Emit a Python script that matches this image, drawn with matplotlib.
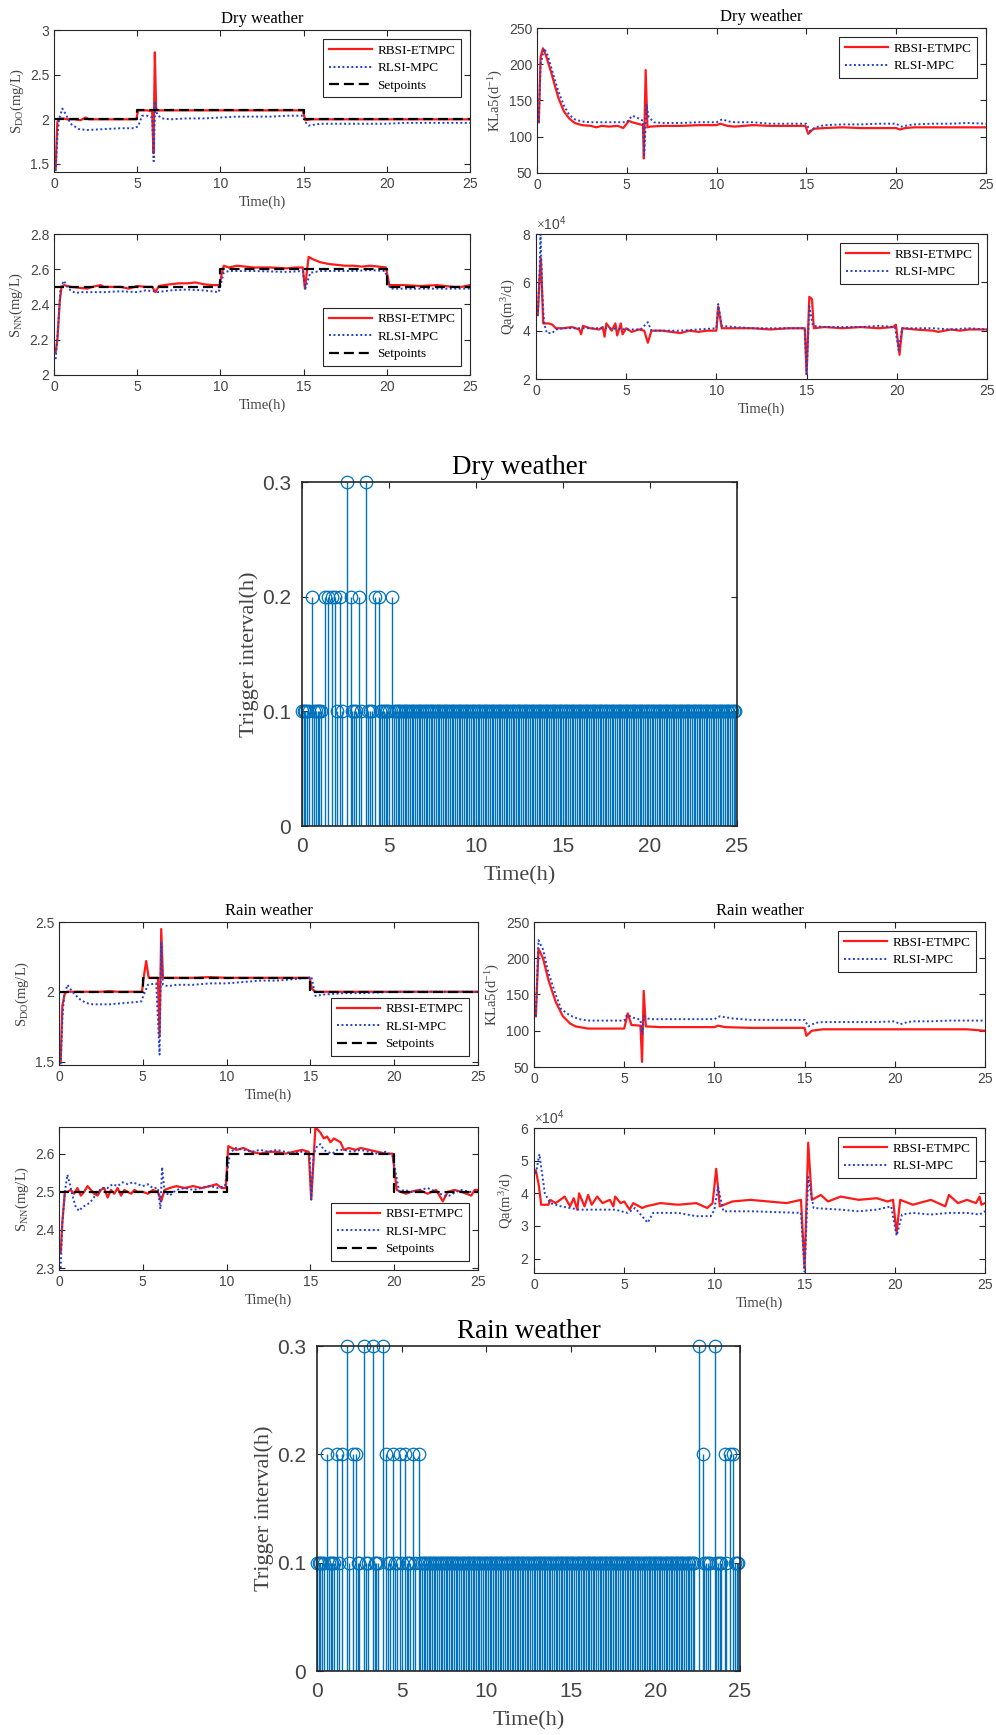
import numpy as np
import matplotlib
matplotlib.use("Agg")
import matplotlib.pyplot as plt
from matplotlib.ticker import ScalarFormatter, FuncFormatter

plt.rcParams["font.family"] = "Liberation Sans"
plt.rcParams["mathtext.fontset"] = "custom"
plt.rcParams["mathtext.rm"] = "Liberation Serif"
plt.rcParams["mathtext.it"] = "Liberation Serif:italic"
plt.rcParams["mathtext.default"] = "rm"

# ---------------- dry weather: dissolved oxygen S_DO (mg/L) ----------------
do_dry_sp_t = [0, 5, 15, 25]
do_dry_sp_v = [2.0, 2.1, 2.0, 2.0]
do_dry_red_t = [0.1, 0.2, 0.3, 0.5, 0.8, 1.2, 1.6, 1.9, 2.1, 2.5, 3.0, 3.5, 4.0, 4.5, 4.95,
                5.05, 5.3, 5.6, 5.9, 5.98, 6.06, 6.14, 6.4, 7, 8, 9, 10, 11, 12, 13, 14, 14.95,
                15.1, 15.5, 16, 17, 18, 19, 20, 21, 22, 23, 24, 25]
do_dry_red = [1.45, 1.97, 2.0, 2.01, 2.0, 2.0, 1.99, 2.02, 2.0, 2.0, 2.0, 2.0, 2.0, 2.0, 2.0,
              2.1, 2.1, 2.1, 2.09, 1.62, 2.75, 2.1, 2.1, 2.1, 2.1, 2.1, 2.1, 2.1, 2.1, 2.1, 2.1, 2.1,
              1.99, 2.0, 2.0, 2.0, 2.0, 2.0, 2.0, 2.0, 2.0, 2.0, 2.0, 2.0]
do_dry_blue_t = [0.1, 0.2, 0.3, 0.5, 0.7, 1.0, 1.5, 2.0, 3.0, 4.0, 4.8, 5.05, 5.3, 5.6, 5.9,
                 5.99, 6.08, 6.2, 6.5, 7, 8, 9, 10, 11, 12, 13, 14, 14.95, 15.1, 15.3, 16, 17,
                 18, 19, 20, 21, 22, 23, 24, 25]
do_dry_blue = [1.42, 1.8, 2.0, 2.12, 2.06, 1.95, 1.89, 1.88, 1.89, 1.9, 1.9, 1.92, 2.04, 2.04, 2.02,
               1.53, 2.2, 2.05, 2.01, 2.0, 2.01, 2.01, 2.02, 2.03, 2.03, 2.03, 2.04, 2.04, 1.97, 1.93,
               1.95, 1.95, 1.95, 1.95, 1.95, 1.96, 1.96, 1.96, 1.96, 1.96]

# ---------------- dry weather: KLa5 (1/d) ----------------
kla_dry_red_t = [0.1, 0.2, 0.33, 0.5, 0.8, 1.0, 1.2, 1.5, 1.8, 2.1, 2.5, 3, 3.3, 3.6, 4, 4.5, 4.8,
                 5.0, 5.1, 5.3, 5.6, 5.9, 5.95, 6.05, 6.15, 6.3, 7, 8, 9, 10, 10.2, 10.6, 11, 12,
                 13, 14, 14.95, 15.1, 15.4, 16, 17, 18, 19, 20, 20.2, 20.5, 21, 22, 23, 24, 25]
kla_dry_red = [120, 210, 222, 212, 188, 170, 153, 135, 125, 119, 116, 115, 113, 115, 114, 115, 112,
               118, 122, 120, 118, 116, 70, 192, 113, 114, 115, 115, 116, 116, 118, 115, 114, 116,
               115, 115, 115, 104, 111, 112, 113, 112, 112, 112, 110, 112, 113, 113, 113, 113, 113]
kla_dry_blue_t = [0.1, 0.2, 0.4, 0.6, 0.8, 1.0, 1.2, 1.5, 1.8, 2.1, 2.5, 3, 4, 5.0, 5.3, 5.6, 5.9,
                  5.97, 6.1, 6.2, 6.5, 7, 8, 9, 10, 10.3, 10.7, 11, 12, 13, 14, 15.0, 15.2, 15.5,
                  16, 17, 18, 19, 20, 20.3, 20.7, 21, 22, 23, 24, 25]
kla_dry_blue = [120, 200, 222, 212, 195, 178, 162, 143, 130, 124, 121, 120, 120, 120, 129, 126, 122,
                75, 145, 128, 120, 119, 119, 120, 120, 124, 121, 120, 120, 118, 118, 118, 108, 113,
                116, 117, 117, 118, 118, 114, 116, 117, 118, 118, 119, 118]

# ---------------- dry weather: nitrate S_NN (mg/L) ----------------
nn_dry_sp_t = [0, 10, 20, 25]
nn_dry_sp_v = [2.5, 2.6, 2.5, 2.5]
nn_dry_red_t = [0.1, 0.2, 0.35, 0.45, 0.6, 1.0, 1.5, 2.0, 2.3, 2.8, 3.0, 3.5, 4.0, 4.5, 5.0, 5.5,
                5.9, 6.1, 6.3, 7.0, 7.5, 8.0, 8.5, 9.0, 9.5, 9.95, 10.05, 10.2, 10.5, 11, 12, 13,
                14, 14.5, 14.95, 15.08, 15.3, 15.6, 16, 16.5, 17, 17.5, 18, 18.5, 19, 19.5, 19.95,
                20.15, 20.5, 21, 22, 23, 24, 24.5, 25]
nn_dry_red = [2.13, 2.2, 2.42, 2.5, 2.51, 2.5, 2.495, 2.49, 2.5, 2.51, 2.5, 2.5, 2.5, 2.49, 2.505,
              2.5, 2.5, 2.47, 2.505, 2.515, 2.52, 2.52, 2.525, 2.515, 2.51, 2.51, 2.56, 2.62, 2.61,
              2.62, 2.61, 2.61, 2.605, 2.61, 2.61, 2.49, 2.67, 2.655, 2.64, 2.63, 2.625, 2.62, 2.62,
              2.615, 2.62, 2.615, 2.61, 2.51, 2.51, 2.51, 2.505, 2.51, 2.5, 2.5, 2.51]
nn_dry_blue_t = [0.1, 0.2, 0.4, 0.6, 0.8, 1.0, 1.3, 1.6, 2, 3, 4, 5, 5.5, 6, 6.2, 7, 8, 9, 9.9,
                 10.2, 10.5, 12, 14, 14.95, 15.1, 15.4, 16, 17, 18, 19, 19.9, 20.2, 21, 22, 23,
                 24, 25]
nn_dry_blue = [2.09, 2.2, 2.5, 2.535, 2.5, 2.48, 2.465, 2.47, 2.47, 2.47, 2.475, 2.47, 2.48, 2.475,
               2.47, 2.48, 2.485, 2.48, 2.47, 2.58, 2.59, 2.59, 2.585, 2.59, 2.49, 2.58, 2.59, 2.59,
               2.59, 2.595, 2.59, 2.49, 2.49, 2.49, 2.49, 2.49, 2.49]

# ---------------- dry weather: internal recycle Qa (1e4 m3/d) ----------------
qa_dry_red_t = [0.1, 0.2, 0.27, 0.4, 0.7, 0.9, 1.1, 1.5, 2.0, 2.4, 2.5, 2.6, 3.0, 3.5, 3.7, 3.8,
                3.9, 4.2, 4.4, 4.5, 4.7, 4.8, 5.0, 5.3, 5.7, 6.0, 6.2, 6.4, 7, 7.5, 8, 8.5, 9, 9.5,
                10.0, 10.1, 10.3, 11, 12, 13, 14, 14.9, 15.0, 15.15, 15.3, 15.4, 16, 17, 18, 19,
                19.8, 19.95, 20.15, 20.3, 21, 22, 22.3, 23, 23.5, 24, 25]
qa_dry_red = [4.7, 6.2, 7.0, 4.3, 4.3, 4.25, 4.1, 4.1, 4.15, 4.05, 3.85, 4.2, 4.1, 4.05, 4.15, 3.75,
              4.3, 4.0, 4.3, 3.8, 4.3, 3.85, 4.1, 3.95, 4.05, 4.0, 3.5, 4.0, 4.0, 3.95, 3.9, 4.0, 3.95,
              4.0, 4.0, 5.0, 4.1, 4.1, 4.1, 4.05, 4.1, 4.1, 2.2, 5.4, 5.3, 4.1, 4.15, 4.1, 4.15, 4.1,
              4.15, 4.25, 3.0, 4.1, 4.05, 4.0, 3.95, 4.05, 4.0, 4.05, 4.05]
qa_dry_blue_t = [0.1, 0.2, 0.25, 0.35, 0.45, 0.6, 0.9, 1.1, 1.5, 2, 3, 4, 5, 5.8, 6.2, 6.4, 7, 8,
                 9, 10.0, 10.1, 10.3, 11, 12, 13, 14, 14.9, 15.0, 15.15, 15.35, 16, 17, 18, 19,
                 19.9, 20.1, 20.3, 21, 22, 23, 24, 25]
qa_dry_blue = [4.6, 6.5, 8.0, 5.5, 4.3, 3.9, 3.9, 4.05, 4.1, 4.1, 4.1, 4.1, 4.05, 4.05, 4.35, 4.0,
               4.0, 4.0, 4.05, 4.1, 5.1, 4.2, 4.15, 4.1, 4.1, 4.1, 4.1, 2.2, 5.0, 4.2, 4.15, 4.15,
               4.15, 4.2, 4.15, 3.2, 4.1, 4.1, 4.1, 4.05, 4.1, 4.05]

# ---------------- rain weather: S_DO (mg/L) ----------------
do_rain_sp_t = [0, 5, 15, 25]
do_rain_sp_v = [2.0, 2.1, 2.0, 2.0]
do_rain_red_t = [0.1, 0.2, 0.35, 0.5, 1, 1.5, 2, 2.5, 3, 3.5, 4, 4.5, 4.95, 5.05, 5.2, 5.35, 5.9,
                 6.0, 6.1, 6.2, 7, 8, 9, 10, 11, 12, 13, 14, 14.95, 15.1, 15.3, 16, 17, 18, 19,
                 20, 21, 22, 23, 24, 25]
do_rain_red = [1.5, 1.9, 1.99, 2.0, 2.0, 2.0, 2.0, 2.0, 2.005, 2.0, 2.0, 2.0, 2.0, 2.1, 2.22, 2.1,
               2.1, 1.68, 2.45, 2.1, 2.1, 2.1, 2.105, 2.1, 2.1, 2.1, 2.1, 2.1, 2.1, 2.02, 2.0, 2.0,
               2.0, 2.0, 2.0, 2.0, 2.0, 2.0, 2.0, 2.0, 2.0]
do_rain_blue_t = [0.1, 0.2, 0.3, 0.5, 0.8, 1.2, 1.6, 2, 3, 4, 4.9, 5.1, 5.3, 5.8, 6.0, 6.1, 6.2,
                  6.5, 7, 8, 9, 10, 11, 12, 13, 14, 14.9, 15.05, 15.3, 15.8, 17, 18, 20, 22, 25]
do_rain_blue = [1.48, 1.8, 1.97, 2.05, 2.0, 1.95, 1.92, 1.91, 1.91, 1.92, 1.93, 1.99, 2.05, 2.06,
                1.55, 2.35, 2.05, 2.04, 2.05, 2.05, 2.06, 2.06, 2.07, 2.08, 2.08, 2.09, 2.1, 2.11,
                1.97, 1.98, 1.99, 1.99, 2.0, 2.0, 2.0]

# ---------------- rain weather: KLa5 (1/d) ----------------
kla_rain_red_t = [0.1, 0.25, 0.5, 0.8, 1.2, 1.6, 2.0, 2.3, 3, 4, 5.0, 5.2, 5.4, 5.9, 5.99, 6.08,
                  6.2, 7, 8, 9, 10, 10.2, 10.6, 12, 13, 14, 15.0, 15.1, 15.4, 16, 17, 18, 19, 20,
                  21, 22, 23, 24, 25]
kla_rain_red = [120, 213, 200, 170, 140, 120, 110, 106, 103, 103, 103, 124, 108, 107, 57, 155, 106,
                105, 105, 105, 105, 107, 105, 104, 104, 104, 104, 93, 100, 102, 102, 102, 102, 102,
                102, 102, 102, 102, 100]
kla_rain_blue_t = [0.1, 0.25, 0.5, 0.8, 1.2, 1.5, 2.0, 2.5, 3, 4, 5.0, 5.15, 5.5, 5.9, 6.0, 6.1,
                   6.3, 6.5, 7, 8, 9, 10, 10.3, 11, 12, 13, 14, 15.0, 15.2, 15.6, 16, 17, 18, 19,
                   20, 20.3, 20.7, 21, 22, 23, 24, 25]
kla_rain_blue = [120, 225, 212, 180, 150, 130, 121, 116, 114, 114, 114, 122, 118, 115, 95, 120, 117,
                 116, 116, 116, 116, 116, 120, 117, 115, 115, 115, 115, 106, 111, 112, 112, 112, 112,
                 113, 109, 112, 113, 113, 114, 114, 114]

# ---------------- rain weather: S_NN (mg/L) ----------------
nn_rain_sp_t = [0, 10, 20, 25]
nn_rain_sp_v = [2.5, 2.6, 2.5, 2.5]
nn_rain_red_t = [0.1, 0.2, 0.35, 0.5, 0.7, 0.9, 1.1, 1.3, 1.5, 1.7, 1.9, 2.1, 2.3, 2.5, 2.7, 2.9,
                 3.1, 3.3, 3.5, 3.7, 3.9, 4.1, 4.3, 4.5, 4.7, 5.0, 5.3, 5.6, 5.9, 6.1, 6.3, 6.6,
                 7.0, 7.5, 8.0, 8.5, 9.0, 9.4, 9.7, 9.95, 10.1, 10.3, 10.6, 11, 11.5, 12, 12.5, 13,
                 13.5, 14, 14.5, 14.9, 15.05, 15.3, 15.6, 15.8, 16.0, 16.2, 16.4, 16.6, 16.8, 17.0,
                 17.3, 17.7, 18, 18.5, 19, 19.5, 19.9, 20.15, 20.4, 20.7, 21, 21.5, 22, 22.5, 22.9,
                 23.2, 23.6, 24, 24.3, 24.6, 24.8, 25]
nn_rain_red = [2.34, 2.42, 2.5, 2.5, 2.505, 2.495, 2.51, 2.49, 2.5, 2.515, 2.505, 2.495, 2.49,
               2.505, 2.51, 2.485, 2.505, 2.495, 2.51, 2.49, 2.505, 2.5, 2.495, 2.505, 2.5, 2.5,
               2.495, 2.505, 2.5, 2.475, 2.505, 2.51, 2.515, 2.51, 2.515, 2.51, 2.515, 2.52, 2.51,
               2.51, 2.62, 2.615, 2.61, 2.615, 2.605, 2.6, 2.605, 2.605, 2.6, 2.605, 2.61, 2.605,
               2.48, 2.67, 2.655, 2.64, 2.645, 2.63, 2.64, 2.635, 2.63, 2.61, 2.615, 2.61, 2.615,
               2.61, 2.605, 2.6, 2.6, 2.505, 2.5, 2.495, 2.5, 2.505, 2.495, 2.505, 2.475, 2.5,
               2.505, 2.5, 2.495, 2.49, 2.505, 2.505]
nn_rain_blue_t = [0.1, 0.2, 0.35, 0.5, 0.65, 0.8, 1.0, 1.2, 1.4, 1.6, 1.8, 2.0, 2.3, 2.6, 2.9, 3.2,
                  3.5, 3.8, 4.1, 4.4, 4.7, 5.0, 5.3, 5.6, 5.9, 6.05, 6.15, 6.3, 6.6, 7.0, 7.5, 8,
                  8.5, 9, 9.5, 9.9, 10.2, 10.5, 11, 11.5, 12, 12.5, 13, 13.5, 14, 14.5, 14.95,
                  15.05, 15.2, 15.4, 15.6, 15.8, 16.0, 16.3, 16.6, 17, 17.5, 18, 18.5, 19, 19.5,
                  19.9, 20.3, 20.6, 21, 21.5, 22, 22.5, 23, 23.3, 23.7, 24, 24.5, 25]
nn_rain_blue = [2.3, 2.42, 2.5, 2.545, 2.52, 2.49, 2.46, 2.45, 2.46, 2.465, 2.47, 2.48, 2.5, 2.51,
                2.51, 2.52, 2.515, 2.525, 2.52, 2.525, 2.52, 2.515, 2.52, 2.51, 2.51, 2.455, 2.565,
                2.5, 2.49, 2.505, 2.51, 2.505, 2.51, 2.515, 2.51, 2.515, 2.6, 2.615, 2.61, 2.605,
                2.61, 2.605, 2.61, 2.605, 2.6, 2.605, 2.6, 2.48, 2.6, 2.62, 2.625, 2.61, 2.605, 2.6,
                2.61, 2.61, 2.605, 2.61, 2.605, 2.6, 2.605, 2.595, 2.5, 2.505, 2.5, 2.505, 2.51,
                2.5, 2.49, 2.49, 2.5, 2.505, 2.5, 2.5]

# ---------------- rain weather: Qa (1e4 m3/d) ----------------
qa_rain_red_t = [0.1, 0.25, 0.4, 0.8, 0.9, 1.2, 1.7, 2.0, 2.2, 2.4, 2.5, 2.8, 3.0, 3.2, 3.5, 3.8,
                 4.2, 4.4, 4.5, 4.8, 5.0, 5.3, 5.5, 6.0, 6.2, 7, 8, 9, 9.6, 9.9, 10.1, 10.3, 11,
                 12, 13, 14, 14.8, 15.0, 15.2, 15.4, 15.9, 16.3, 17, 18, 19, 19.6, 19.9, 20.1,
                 20.3, 21, 22, 22.8, 23.0, 23.5, 24, 24.5, 24.7, 24.8, 25]
qa_rain_red = [4.7, 4.3, 3.65, 3.65, 3.8, 3.7, 3.9, 3.6, 3.85, 3.5, 4.0, 3.6, 3.95, 3.65, 3.9, 3.7,
               3.8, 3.6, 3.9, 3.7, 3.75, 3.5, 3.7, 3.55, 3.6, 3.7, 3.65, 3.7, 3.55, 3.7, 4.75, 3.6,
               3.75, 3.8, 3.75, 3.7, 3.8, 1.7, 5.55, 3.8, 3.95, 3.75, 3.9, 3.8, 3.85, 3.75, 3.8,
               2.8, 3.8, 3.65, 3.8, 3.6, 3.95, 3.7, 3.8, 3.7, 3.9, 3.65, 3.7]
qa_rain_blue_t = [0.1, 0.3, 0.6, 0.9, 1.5, 2.5, 3.5, 4.5, 5.2, 5.6, 6.3, 6.6, 8, 9, 9.8, 10.0,
                  10.2, 10.5, 12, 14.8, 15.0, 15.2, 15.5, 17, 18, 19, 19.8, 20.1, 20.4, 21, 22,
                  23, 24, 24.7, 25]
qa_rain_blue = [4.6, 5.2, 4.0, 3.7, 3.6, 3.5, 3.5, 3.5, 3.4, 3.55, 3.1, 3.4, 3.4, 3.3, 3.3, 3.5,
                4.2, 3.45, 3.45, 3.4, 1.6, 4.5, 3.55, 3.5, 3.45, 3.5, 3.6, 2.7, 3.35, 3.4, 3.35,
                3.4, 3.4, 3.35, 3.45]

# ---------------- trigger intervals (h) of the event-triggered controller ----------------
dry_intervals_head = [0.1, 0.1, 0.1, 0.1, 0.1, 0.2, 0.1, 0.1, 0.1, 0.1, 0.1, 0.2, 0.2, 0.2, 0.2,
                      0.1, 0.2, 0.1, 0.3, 0.2, 0.1, 0.1, 0.1, 0.2, 0.1, 0.3, 0.1, 0.1, 0.1, 0.2,
                      0.2, 0.1, 0.1, 0.1, 0.1, 0.1, 0.1, 0.2]
dry_regular_count = 197
rain_intervals_head = [0.1, 0.1, 0.1, 0.1, 0.1, 0.2, 0.1, 0.1, 0.1, 0.1, 0.2, 0.1, 0.2, 0.3, 0.1,
                       0.2, 0.2, 0.1, 0.1, 0.3, 0.1, 0.1, 0.3, 0.1, 0.1, 0.1, 0.3, 0.2, 0.1, 0.1,
                       0.2, 0.1, 0.1, 0.2, 0.1, 0.2, 0.1, 0.1, 0.1, 0.2, 0.1, 0.2]
rain_regular_count = 163
rain_intervals_tail = [0.3, 0.2, 0.1, 0.1, 0.1, 0.1, 0.3, 0.1, 0.1, 0.1, 0.1, 0.2, 0.1, 0.2, 0.2,
                       0.1, 0.1, 0.1]

AX_GRAY = "#262626"
TXT_GRAY = "#444444"
RED = "#ff1a1a"
BLUE = "#2040d0"
STEM = "#0072bd"
W, H = 996, 1735

fig = plt.figure(figsize=(W / 100, H / 100), dpi=100)
plain = FuncFormatter(lambda v, pos: f"{v:g}")


def add_axes(left, top, right, bottom):
    return fig.add_axes([left / W, 1 - bottom / H, (right - left) / W, (bottom - top) / H])


def frame(ax, tick_size, pad=3.5):
    for s in ax.spines.values():
        s.set_color(AX_GRAY)
        s.set_linewidth(0.8)
    ax.tick_params(direction="in", top=True, right=True, color=AX_GRAY, labelcolor=TXT_GRAY,
                   labelsize=tick_size, length=4, width=0.8, pad=pad)
    ax.xaxis.set_major_formatter(plain)
    ax.yaxis.set_major_formatter(plain)


def response_panel(ax, t_red, v_red, t_blue, v_blue, ylim, yticks, ylabel,
                   title=None, xlabel=True, sp_t=None, sp_v=None, loc="upper right", scale=1.0):
    ax.plot(t_red, np.asarray(v_red) * scale, color=RED, lw=1.6, label="RBSI-ETMPC")
    ax.plot(t_blue, np.asarray(v_blue) * scale, color=BLUE, lw=1.4, ls=(0, (1, 1.3)),
            label="RLSI-MPC")
    if sp_t is not None:
        ax.plot(sp_t, sp_v, drawstyle="steps-post", color="k", lw=1.6, ls=(0, (4.5, 2.2)),
                label="Setpoints")
    ax.set_xlim(0, 25)
    ax.set_xticks([0, 5, 10, 15, 20, 25])
    ax.set_ylim(*ylim)
    ax.set_yticks(yticks)
    frame(ax, 10)
    if scale != 1.0:
        fmt = ScalarFormatter(useMathText=True)
        fmt.set_powerlimits((4, 4))
        ax.yaxis.set_major_formatter(fmt)
        ax.yaxis.get_offset_text().set_fontsize(10)
        ax.yaxis.get_offset_text().set_color(TXT_GRAY)
    ax.set_ylabel(ylabel, family="Liberation Serif", fontsize=10.5, color=TXT_GRAY, labelpad=3)
    if xlabel:
        ax.set_xlabel("Time(h)", family="Liberation Serif", fontsize=10.5, color=TXT_GRAY,
                      labelpad=3)
    if title:
        ax.set_title(title, family="Liberation Serif", fontsize=12, pad=5)
    leg = ax.legend(loc=loc, prop={"family": "Liberation Serif", "size": 9.5}, fancybox=False,
                    edgecolor=AX_GRAY, framealpha=1, handlelength=3.3, borderpad=0.4,
                    labelspacing=0.4, handletextpad=0.4, borderaxespad=0.7)
    leg.get_frame().set_linewidth(0.8)


def trigger_panel(ax, intervals, title):
    intervals = np.asarray(intervals)
    times = np.cumsum(intervals) - intervals[0]
    markers, stems, base = ax.stem(times, intervals, linefmt="-", markerfmt="o", basefmt=" ")
    stems.set_color(STEM)
    stems.set_linewidth(1.0)
    markers.set_color(STEM)
    markers.set_markerfacecolor("none")
    markers.set_markersize(9)
    markers.set_markeredgewidth(0.9)
    markers.set_clip_on(False)
    ax.set_xlim(0, 25)
    ax.set_ylim(0, 0.3)
    ax.set_xticks([0, 5, 10, 15, 20, 25])
    ax.set_yticks([0, 0.1, 0.2, 0.3])
    frame(ax, 15, pad=8)
    for s in ax.spines.values():
        s.set_linewidth(1.2)
    ax.set_xlabel("Time(h)", family="Liberation Serif", fontsize=16, color=TXT_GRAY, labelpad=7)
    ax.set_ylabel("Trigger interval(h)", family="Liberation Serif", fontsize=16, color=TXT_GRAY,
                  labelpad=2)
    ax.set_title(title, family="Liberation Serif", fontsize=19.5, pad=6)


# dry weather responses
ax = add_axes(54, 30, 470, 172)
response_panel(ax, do_dry_red_t, do_dry_red, do_dry_blue_t, do_dry_blue, (1.41, 3.0),
               [1.5, 2, 2.5, 3], r"S$_{\rm DO}$(mg/L)", title="Dry weather",
               sp_t=do_dry_sp_t, sp_v=do_dry_sp_v)

ax = add_axes(537, 28, 986, 173)
response_panel(ax, kla_dry_red_t, kla_dry_red, kla_dry_blue_t, kla_dry_blue, (50, 250),
               [50, 100, 150, 200, 250], r"KLa5(d$^{-1}$)", title="Dry weather", xlabel=False)

ax = add_axes(54, 234, 470, 375)
response_panel(ax, nn_dry_red_t, nn_dry_red, nn_dry_blue_t, nn_dry_blue, (2.0, 2.8),
               [2, 2.2, 2.4, 2.6, 2.8], r"S$_{\rm NN}$(mg/L)", sp_t=nn_dry_sp_t,
               sp_v=nn_dry_sp_v, loc="lower right")

ax = add_axes(536, 234, 987, 379)
response_panel(ax, qa_dry_red_t, qa_dry_red, qa_dry_blue_t, qa_dry_blue, (2e4, 8e4),
               [2e4, 4e4, 6e4, 8e4], r"Qa(m$^3$/d)", scale=1e4)

ax = add_axes(302, 482, 737, 826)
trigger_panel(ax, dry_intervals_head + [0.1] * dry_regular_count, "Dry weather")

# rain weather responses
ax = add_axes(59, 922, 478, 1065)
response_panel(ax, do_rain_red_t, do_rain_red, do_rain_blue_t, do_rain_blue, (1.475, 2.5),
               [1.5, 2, 2.5], r"S$_{\rm DO}$(mg/L)", title="Rain weather",
               sp_t=do_rain_sp_t, sp_v=do_rain_sp_v, loc="lower right")

ax = add_axes(534, 922, 985, 1067)
response_panel(ax, kla_rain_red_t, kla_rain_red, kla_rain_blue_t, kla_rain_blue, (50, 250),
               [50, 100, 150, 200, 250], r"KLa5(d$^{-1}$)", title="Rain weather", xlabel=False)

ax = add_axes(59, 1127, 478, 1270)
response_panel(ax, nn_rain_red_t, nn_rain_red, nn_rain_blue_t, nn_rain_blue, (2.295, 2.67),
               [2.3, 2.4, 2.5, 2.6], r"S$_{\rm NN}$(mg/L)", sp_t=nn_rain_sp_t,
               sp_v=nn_rain_sp_v, loc="lower right")

ax = add_axes(534, 1128, 985, 1273)
response_panel(ax, qa_rain_red_t, qa_rain_red, qa_rain_blue_t, qa_rain_blue, (1.56e4, 6e4),
               [2e4, 3e4, 4e4, 5e4, 6e4], r"Qa(m$^3$/d)", scale=1e4)

ax = add_axes(317, 1346, 740, 1671)
trigger_panel(ax, rain_intervals_head + [0.1] * rain_regular_count + rain_intervals_tail,
              "Rain weather")

fig.savefig("out.png", dpi=100, facecolor="white")
